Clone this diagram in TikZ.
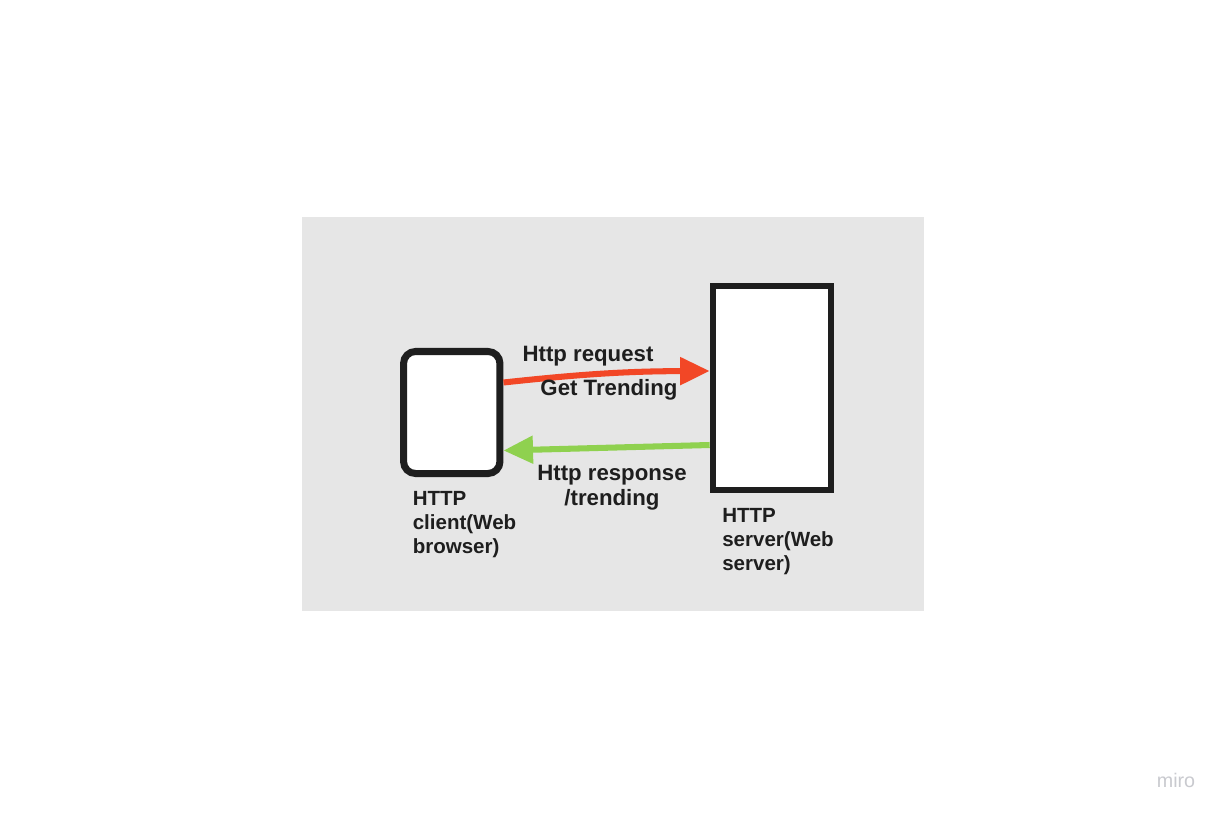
\documentclass[tikz,border=0pt]{standalone}
\usepackage{fontspec}
\setmainfont{Liberation Sans}
\usetikzlibrary{arrows.meta,calc}
\definecolor{panel}{HTML}{E6E6E6}
\definecolor{ink}{HTML}{1E1E1E}
\definecolor{reqred}{HTML}{F24726}
\definecolor{respgreen}{HTML}{8FD14F}
\definecolor{wmark}{HTML}{C9CACF}
\begin{document}
\begin{tikzpicture}[x=0.025cm,y=-0.025cm,
  box/.style={draw=ink,fill=white,inner sep=0pt},
  lbl/.style={inner sep=0pt,text=ink,anchor=base,font=\bfseries\fontsize{15.8}{18.2}\selectfont},
  boxlbl/.style={inner sep=0pt,text=ink,align=left,anchor=base west,font=\bfseries\fontsize{14.6}{17}\selectfont},
  msg/.style={line width=4.3pt,-{Triangle[length=21pt,width=19pt]}}]
\fill [white] (0,0) rectangle (1224,816);
\useasboundingbox (0,0) rectangle (1224,816);
\fill [panel] (302,217) rectangle (924,611);
\node [box,line width=5pt,rounded corners=0.3cm,minimum width=2.41cm,minimum height=3.05cm] (client) at (451.75,412.5) {};
\node [box,line width=4.7pt,minimum width=2.95cm,minimum height=5.1cm] (server) at (772,388) {};
\node [boxlbl] (clientlbl) at (412.5,553) {HTTP\\client(Web\\browser)};
\node [boxlbl] (serverlbl) at (722,570) {HTTP\\server(Web\\server)};
\draw [msg,reqred] ($(client.east)+(0,-30)$) to[bend left=3] ($(server.west)+(0,-17)$);
\draw [msg,respgreen] ($(server.west)+(0,57)$) -- ($(client.east)+(0,38)$);
\node [lbl] (reqlbl) at (588,361) {Http request};
\node [lbl] (getlbl) at (609,395) {Get Trending};
\node [lbl,align=center] (resplbl) at (612,505.7) {Http response\\/trending};
\node [anchor=base,inner sep=0pt,text=wmark,font=\fontsize{14}{16}\selectfont] (miro) at (1176,787) {miro};
\end{tikzpicture}
\end{document}
